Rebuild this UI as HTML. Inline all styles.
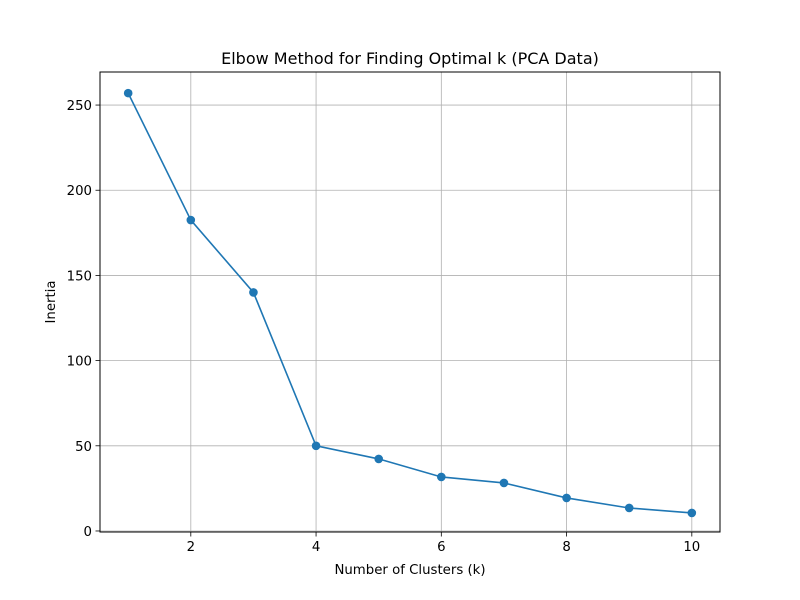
<!DOCTYPE html>
<html><head><meta charset="utf-8"><style>
html,body{margin:0;padding:0;background:#fff;}
svg{display:block;font-family:"DejaVu Sans","Liberation Sans",sans-serif;}
</style></head><body>
<svg id="chart" width="800" height="600" viewBox="0 0 800 600">
<rect x="0" y="0" width="800" height="600" fill="#fff"/>
<g id="grid"></g>
<g id="axes"></g>
<g id="series"></g>
<rect x="100" y="72" width="620" height="460" fill="none" stroke="#000" stroke-width="1"/>
<text x="410" y="64" text-anchor="middle" font-size="16">Elbow Method for Finding Optimal k (PCA Data)</text>
<text x="410" y="574" text-anchor="middle" font-size="13.3">Number of Clusters (k)</text>
<text x="55" y="302" text-anchor="middle" font-size="13.3" transform="rotate(-90 55 302)">Inertia</text>
</svg>
<script>
const categories = [1,2,3,4,5,6,7,8,9,10];
const inertia = [257, 182.5, 140, 50, 42.3, 31.7, 28.2, 19.4, 13.5, 10.6];
const xTicks = [2,4,6,8,10];
const yTicks = [0,50,100,150,200,250];

const NS = "http://www.w3.org/2000/svg";
const L=100,R=720,T=72,B=532;
const xMin=0.55,xMax=10.45,yMin=-0.6,yMax=269.4;
function xs(v){return L+(v-xMin)/(xMax-xMin)*(R-L);}
function ys(v){return B-(v-yMin)/(yMax-yMin)*(B-T);}
function mk(tag,attrs,parent){const e=document.createElementNS(NS,tag);for(const k in attrs)e.setAttribute(k,attrs[k]);parent.appendChild(e);return e;}
const grid=document.getElementById('grid'),axes=document.getElementById('axes'),series=document.getElementById('series');

xTicks.forEach(t=>{
  const x=xs(t);
  const g=mk('line',{x1:x,x2:x,y1:T,y2:B,stroke:'#b0b0b0','stroke-width':0.8},grid);
  
  
  const tk=mk('line',{x1:x,x2:x,y1:B,y2:B+4.5,stroke:'#000','stroke-width':0.8},axes);
  
  
  const tx=mk('text',{x:x,y:B+19,'text-anchor':'middle','font-size':13.3},axes);
  tx.textContent=t;
  
  
});
yTicks.forEach(t=>{
  const y=ys(t);
  const g=mk('line',{x1:L,x2:R,y1:y,y2:y,stroke:'#b0b0b0','stroke-width':0.8},grid);
  
  
  const tk=mk('line',{x1:L-4.5,x2:L,y1:y,y2:y,stroke:'#000','stroke-width':0.8},axes);
  
  
  const tx=mk('text',{x:L-8,y:y+5,'text-anchor':'end','font-size':13.3},axes);
  tx.textContent=t;
  
  
});
const pts=categories.map((c,i)=>xs(c)+','+ys(inertia[i])).join(' ');
const line=mk('polyline',{points:pts,fill:'none',stroke:'#1f77b4','stroke-width':1.6},series);


categories.forEach((c,i)=>{
  const p=mk('circle',{cx:xs(c),cy:ys(inertia[i]),r:4.3,fill:'#1f77b4'},series);
  
  
});
</script>
</body></html>
